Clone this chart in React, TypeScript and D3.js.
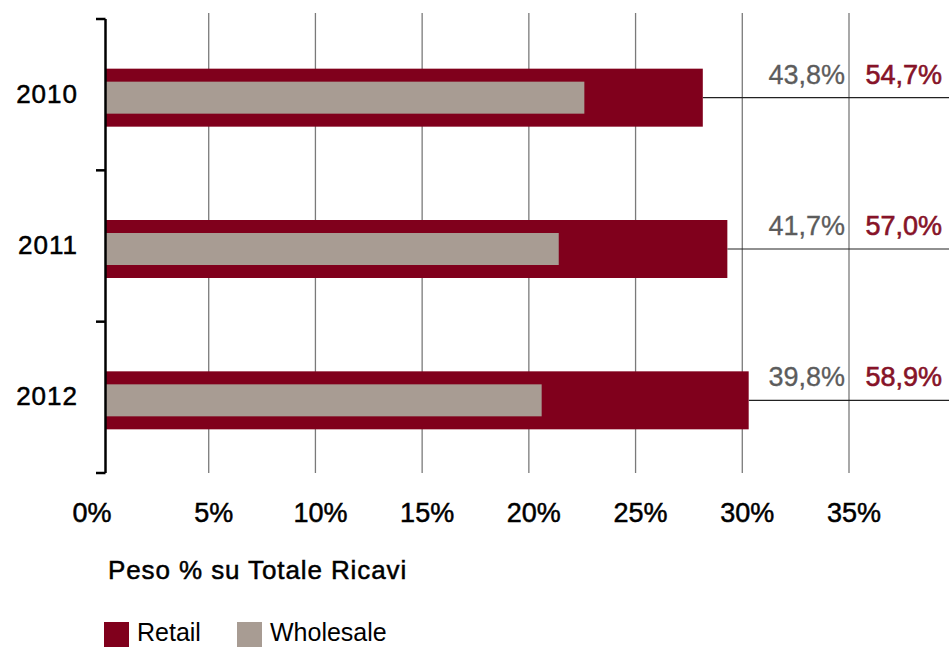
import React from 'react';
import * as d3 from 'd3';

const categories = ['2010', '2011', '2012'];
const retail = [28.15, 29.3, 30.3];
const wholesale = [22.6, 21.4, 20.6];
const wholesaleLabels = ['43,8%', '41,7%', '39,8%'];
const retailLabels = ['54,7%', '57,0%', '58,9%'];
const xTicks = [0, 5, 10, 15, 20, 25, 30, 35];
const axisTitle = 'Peso % su Totale Ricavi';
const legendItems = ['Retail', 'Wholesale'];

const W = 949;
const H = 647;
const RED = '#80001c';
const GRAY = '#a89c93';
const FONT = '"Liberation Sans", Arial, Helvetica, sans-serif';

export default function App() {
  const x = d3.scaleLinear().domain([0, 35]).range([102, 849]);
  const y = d3.scaleBand<string>().domain(categories).range([19, 473]);
  const bw = y.bandwidth();
  const axisX = 105.5;
  const center = (c: string) => (y(c) as number) + bw / 2 + 3;
  const colors = [RED, GRAY];

  return (
    <svg
      width={W}
      height={H}
      style={{ position: 'absolute', left: 0, top: 0, background: '#fff' }}
      fontFamily={FONT}
    >
      {/* gridlines */}
      {xTicks.filter((t) => t > 0).map((t) => (
        <line key={t} x1={x(t)} x2={x(t)} y1={13} y2={473} stroke="#7a7a7a" strokeWidth={1.3} />
      ))}
      {/* leader lines */}
      {categories.map((c, i) => (
        <line key={c} x1={x(retail[i])} x2={W} y1={center(c)} y2={center(c)} stroke="#222" strokeWidth={1.2} />
      ))}
      {/* bars */}
      {categories.map((c, i) => (
        <g key={c}>
          <rect x={axisX} y={center(c) - 29} width={x(retail[i]) - axisX} height={58} fill={RED} />
          <rect x={axisX} y={center(c) - 16} width={x(wholesale[i]) - axisX} height={32} fill={GRAY} />
        </g>
      ))}
      {/* y axis */}
      <line x1={axisX} x2={axisX} y1={19} y2={473} stroke="#000" strokeWidth={2.5} />
      {[...categories.map((c) => y(c) as number), 473].map((t, i) => (
        <line key={i} x1={96} x2={axisX} y1={t} y2={t} stroke="#000" strokeWidth={2.5} />
      ))}
      {categories.map((c) => (
        <text
          key={c}
          x={78}
          y={center(c) + 5}
          textAnchor="end"
          fontSize={26}
          letterSpacing={1}
          fill="#000"
          stroke="#000"
          strokeWidth={0.5}
        >
          {c}
        </text>
      ))}
      {/* value labels */}
      {categories.map((c, i) => (
        <g key={c}>
          <text
            x={845}
            y={center(c) - 14}
            textAnchor="end"
            fontSize={27}
            fill="#5c5c5c"
            stroke="#5c5c5c"
            strokeWidth={0.3}
          >
            {wholesaleLabels[i]}
          </text>
          <text
            x={942}
            y={center(c) - 14}
            textAnchor="end"
            fontSize={27}
            fill="#861328"
            stroke="#861328"
            strokeWidth={0.6}
          >
            {retailLabels[i]}
          </text>
        </g>
      ))}
      {/* x tick labels */}
      {xTicks.map((t) => (
        <text
          key={t}
          x={x(t) + (t === 0 ? -10 : 5)}
          y={522}
          textAnchor="middle"
          fontSize={27}
          fill="#000"
          stroke="#000"
          strokeWidth={0.5}
        >
          {`${t}%`}
        </text>
      ))}
      {/* axis title */}
      <text x={108} y={579} fontSize={26} letterSpacing={0.9} fill="#000" stroke="#000" strokeWidth={0.5}>
        {axisTitle}
      </text>
      {/* legend */}
      {legendItems.map((l, i) => {
        const lx = i === 0 ? 104 : 237;
        return (
          <g key={l}>
            <rect x={lx} y={622} width={25} height={25} fill={colors[i]} />
            <text x={lx + 33} y={641} fontSize={25} fill="#000">
              {l}
            </text>
          </g>
        );
      })}
    </svg>
  );
}
